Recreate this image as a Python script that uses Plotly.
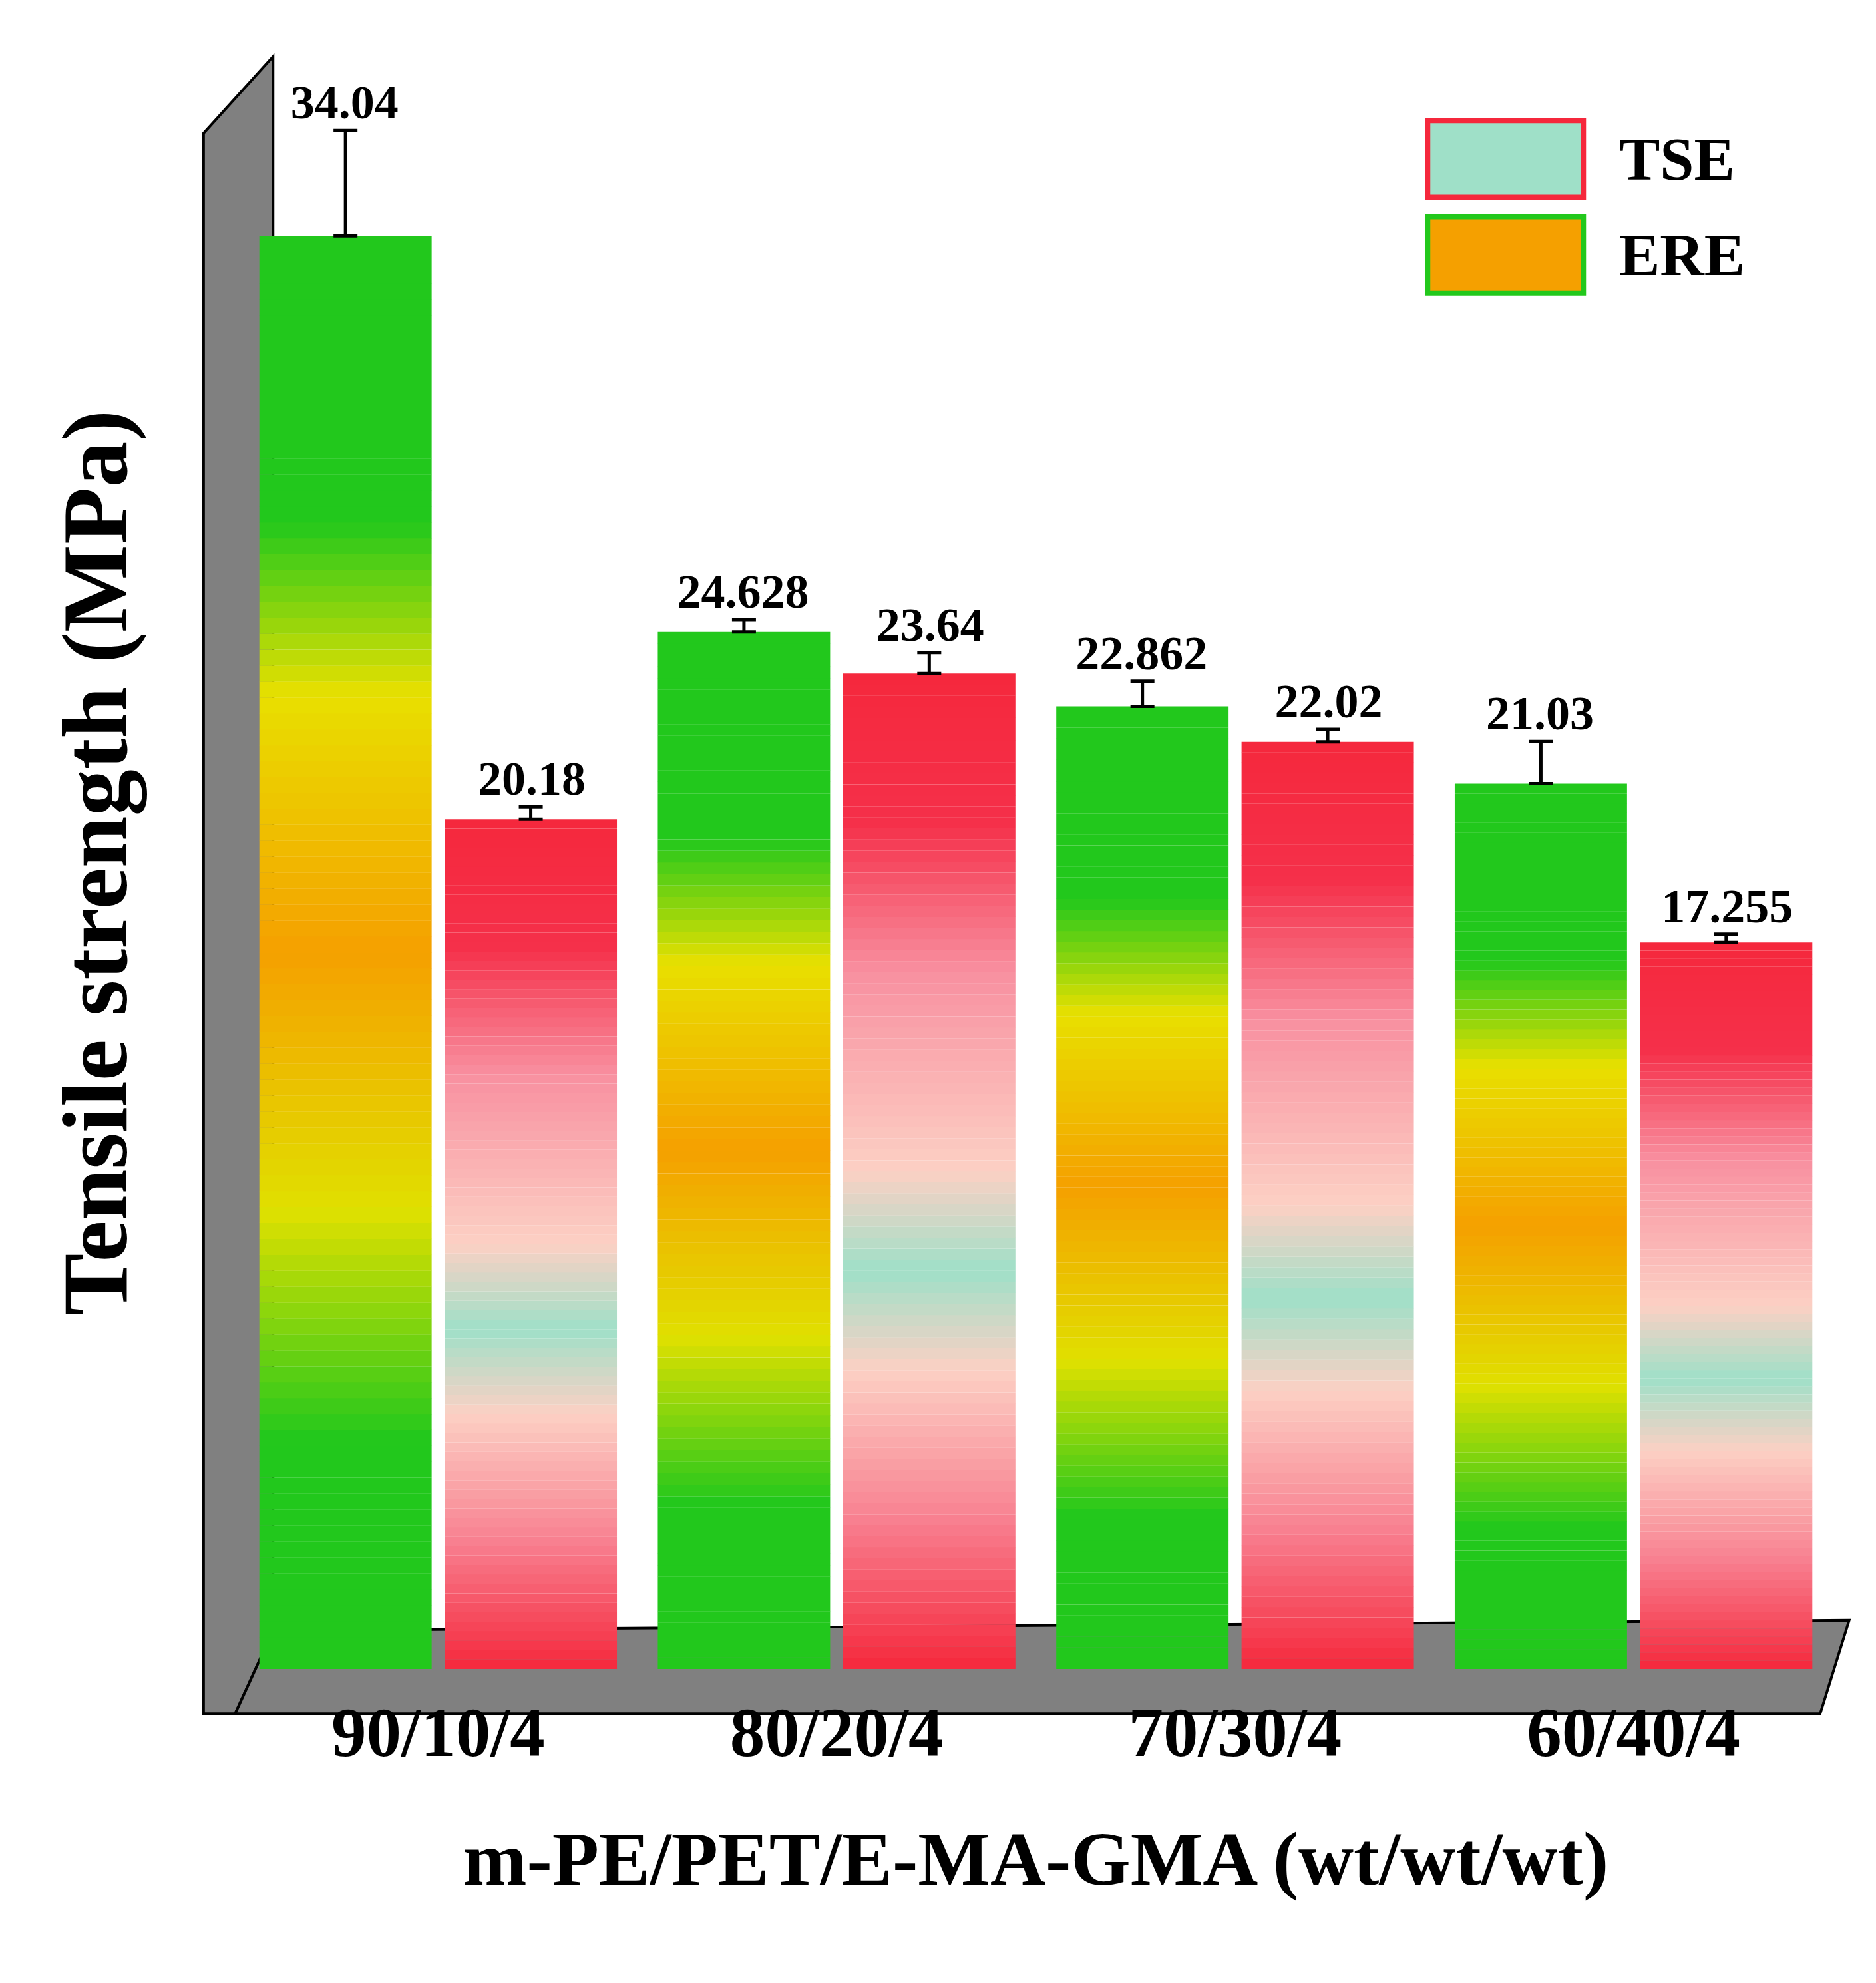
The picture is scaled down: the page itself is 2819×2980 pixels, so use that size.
import plotly.graph_objects as go
from plotly.colors import sample_colorscale

categories = ["90/10/4", "80/20/4", "70/30/4", "60/40/4"]
ere_values = [34.04, 24.628, 22.862, 21.03]
ere_errors = [2.5, 0.3, 0.6, 1.0]
tse_values = [20.18, 23.64, 22.02, 17.255]
tse_errors = [0.3, 0.5, 0.3, 0.2]
ere_labels = ["34.04", "24.628", "22.862", "21.03"]
tse_labels = ["20.18", "23.64", "22.02", "17.255"]
legend_names = ["TSE", "ERE"]

ere_scale = [[0, "#22c81c"], [0.16, "#22c81c"], [0.32, "#e0e000"], [0.5, "#f5a000"],
             [0.68, "#e8e000"], [0.8, "#22c81c"], [1, "#22c81c"]]
tse_scale = [[0, "#f5283c"], [0.15, "#f88090"], [0.3, "#fcd0c4"], [0.4, "#9fe0c8"],
             [0.5, "#fcd0c4"], [0.7, "#f890a0"], [0.85, "#f5304a"], [1, "#f5283c"]]

N = 90
fig = go.Figure()

def add_series(name, vals, errs, scale):
    cols = sample_colorscale(scale, [(k + 0.5) / N for k in range(N)])
    for k in range(N):
        last = k == N - 1
        fig.add_trace(go.Bar(
            x=categories, y=[v / N * 1.01 for v in vals], base=[v * k / N for v in vals],
            offsetgroup=name, name=name, marker=dict(color=cols[k], line=dict(width=0)),
            showlegend=False,
            error_y=dict(type="data", array=[e - v / N * 0.01 for e, v in zip(errs, vals)],
                         arrayminus=[0] * len(errs), symmetric=False,
                         color="black", thickness=5, width=18, visible=last),
            hoverinfo="skip"))

add_series("ERE", ere_values, ere_errors, ere_scale)
add_series("TSE", tse_values, tse_errors, tse_scale)

for vals, errs, labels, off in [(ere_values, ere_errors, ere_labels, -0.235),
                                (tse_values, tse_errors, tse_labels, 0.235)]:
    fig.add_trace(go.Scatter(
        x=[i + off for i in range(len(categories))], y=[v + e for v, e in zip(vals, errs)],
        xaxis="x2", mode="text", text=["<b>" + t + "</b>" for t in labels],
        textposition="top center",
        textfont=dict(size=72, color="black", family="Liberation Serif"),
        showlegend=False, hoverinfo="skip"))

X0, X1 = 183, 1442

def P(X, Y):
    return (X - X0) / (X1 - X0), (1300 - Y) / 1260

def path(pts):
    s = ""
    for i, (X, Y) in enumerate(pts):
        px, py = P(X, Y)
        s += ("M" if i == 0 else "L") + f"{px:.4f},{py:.4f} "
    return s + "Z"

shapes = [
    dict(type="path", xref="paper", yref="paper", layer="below",
         path=path([(155, 100), (210, 40), (210, 1270), (180, 1335), (155, 1335)]),
         fillcolor="#808080", line=dict(color="black", width=4)),
    dict(type="path", xref="paper", yref="paper", layer="below",
         path=path([(210, 1270), (1455, 1262), (1432, 1335), (180, 1335)]),
         fillcolor="#808080", line=dict(color="black", width=4)),
]
annotations = []
# legend boxes
leg_fill = [("#9fe0c8", "#f5283c"), ("#f5a000", "#22c81c")]
for i, name in enumerate(legend_names):
    yc = 120 + i * 75
    x0, y0 = P(1122, yc - 30)
    x1, y1 = P(1245, yc + 30)
    fill, edge = leg_fill[i]
    shapes.append(dict(type="rect", xref="paper", yref="paper", x0=x0, x1=x1, y0=y0, y1=y1,
                       fillcolor=fill, line=dict(color=edge, width=8)))
    tx, ty = P(1272, yc)
    annotations.append(dict(xref="paper", yref="paper", x=tx, y=ty, xanchor="left",
                            yanchor="middle", showarrow=False, text="<b>" + name + "</b>",
                            font=dict(size=92, family="Liberation Serif", color="black")))

fig.update_layout(
    width=2819, height=2980, paper_bgcolor="white", plot_bgcolor="rgba(0,0,0,0)",
    margin=dict(l=351, r=73, t=77, b=480),
    barmode="group", bargap=0.07, bargroupgap=0.07,
    shapes=shapes, annotations=annotations, showlegend=False,
    font=dict(family="Liberation Serif", color="black"),
    xaxis=dict(type="category", showgrid=False, showline=False, ticks="",
               tickfont=dict(size=105, family="Liberation Serif"), ticklabelstandoff=25,
               tickprefix="<b>", ticksuffix="</b>",
               title=dict(text="<b>m-PE/PET/E-MA-GMA (wt/wt/wt)</b>", font=dict(size=115), standoff=90)),
    xaxis2=dict(overlaying="x", range=[-0.5, 3.5], visible=False),
    yaxis=dict(range=[0, 38.3], showgrid=False, showline=False, showticklabels=False, ticks="",
               zeroline=False,
               title=dict(text="<b>Tensile strength (MPa)</b>", font=dict(size=140), standoff=120)),
)
fig.write_html("out.html")
